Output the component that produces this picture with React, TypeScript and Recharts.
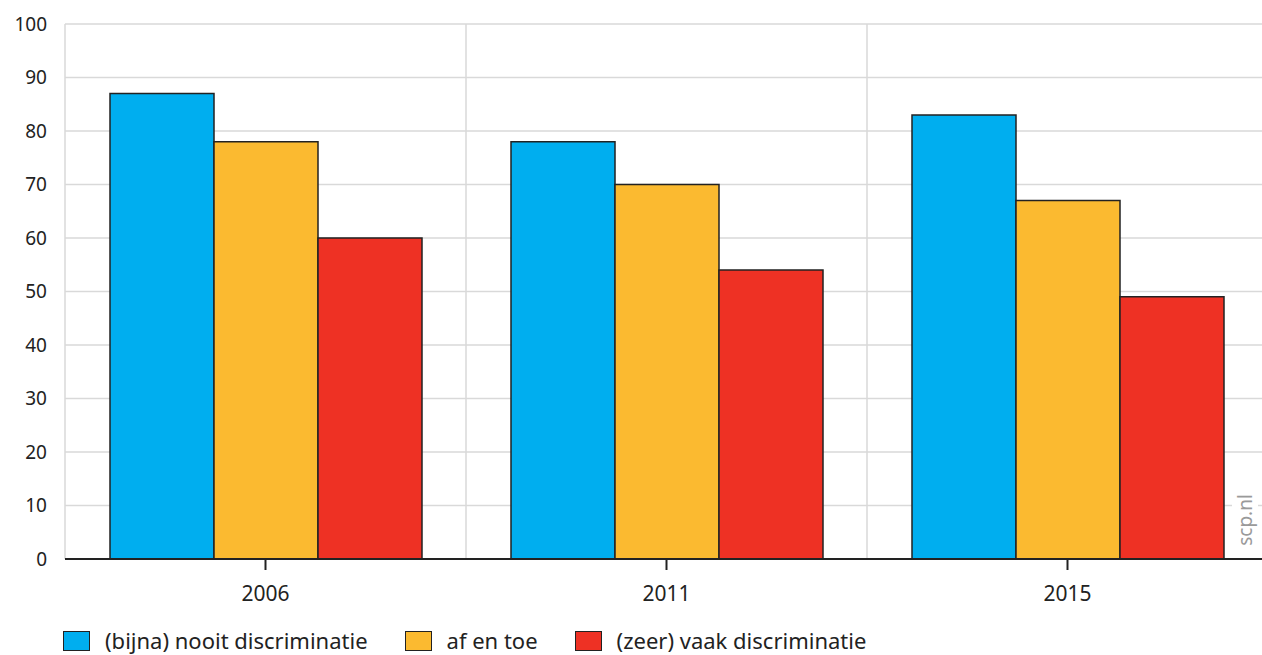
import React from "react"
import {
  BarChart,
  Bar,
  XAxis,
  YAxis,
  CartesianGrid,
  Legend,
} from "recharts"

// survey years
const years = ["2006", "2011", "2015"]

// percentages per answer group
const neverValues = [87, 78, 83]
const sometimesValues = [78, 70, 67]
const oftenValues = [60, 54, 49]

const yTicks = [0, 10, 20, 30, 40, 50, 60, 70, 80, 90, 100]

const seriesInfo = [
  { key: "nooit", label: "(bijna) nooit discriminatie", color: "#00aeef" },
  { key: "afentoe", label: "af en toe", color: "#fbba30" },
  { key: "vaak", label: "(zeer) vaak discriminatie", color: "#ee3124" },
]

const data = years.map((year, i) => ({
  year,
  nooit: neverValues[i],
  afentoe: sometimesValues[i],
  vaak: oftenValues[i],
}))

const FONT = "'Noto Sans', 'Open Sans', sans-serif"

const LegendContent = () => {
  return (
    <div style={{ display: "flex", alignItems: "center", paddingLeft: 63, paddingTop: 2, fontFamily: FONT, fontSize: 22, lineHeight: "23px", color: "#222" }}>
      {seriesInfo.map((s) => (
        <div key={s.key} style={{ display: "flex", alignItems: "center", marginRight: 37 }}>
          <div style={{ width: 25, height: 18, background: s.color, border: "1.5px solid #222", marginRight: 15 }} />
          <span>{s.label}</span>
        </div>
      ))}
    </div>
  )
}

export default function App() {
  return (
    <div style={{ position: "absolute", left: 0, top: 0, width: 1262, height: 655, overflow: "hidden", background: "#fff" }}>
      <BarChart
        width={1275}
        height={655}
        data={data}
        margin={{ top: 24, right: 7, left: 0, bottom: 0 }}
        barCategoryGap={45}
        barGap={0}
      >
        <CartesianGrid
          stroke="#d9d9d9"
          strokeWidth={1.5}
          verticalCoordinatesGenerator={({ offset }: any) =>
            years.map((_, i) => offset.left + (i * offset.width) / years.length)
          }
        />
        <XAxis
          dataKey="year"
          height={68}
          tickSize={11}
          tickMargin={16}
          axisLine={{ stroke: "#222", strokeWidth: 2 }}
          tickLine={{ stroke: "#222", strokeWidth: 2 }}
          tick={{ fill: "#222", fontSize: 21, fontFamily: FONT }}
        />
        <YAxis
          width={65}
          domain={[0, 100]}
          ticks={yTicks}
          interval={0}
          axisLine={false}
          tickLine={false}
          tickSize={0}
          tickMargin={18}
          tick={{ fill: "#222", fontSize: 19, fontFamily: FONT }}
        />
        <Legend verticalAlign="bottom" align="left" height={28} content={() => <LegendContent />} />
        {seriesInfo.map((s) => (
          <Bar
            key={s.key}
            dataKey={s.key}
            name={s.label}
            fill={s.color}
            stroke="#222"
            strokeWidth={1.5}
            isAnimationActive={false}
          />
        ))}
      </BarChart>
      <div
        style={{
          position: "absolute",
          left: 1245,
          top: 520,
          transform: "translate(-50%, -50%) rotate(-90deg)",
          background: "#fff",
          color: "#9a9a9a",
          fontFamily: FONT,
          fontSize: 19,
          padding: "0 2px",
          whiteSpace: "nowrap",
        }}
      >
        scp.nl
      </div>
    </div>
  )
}
